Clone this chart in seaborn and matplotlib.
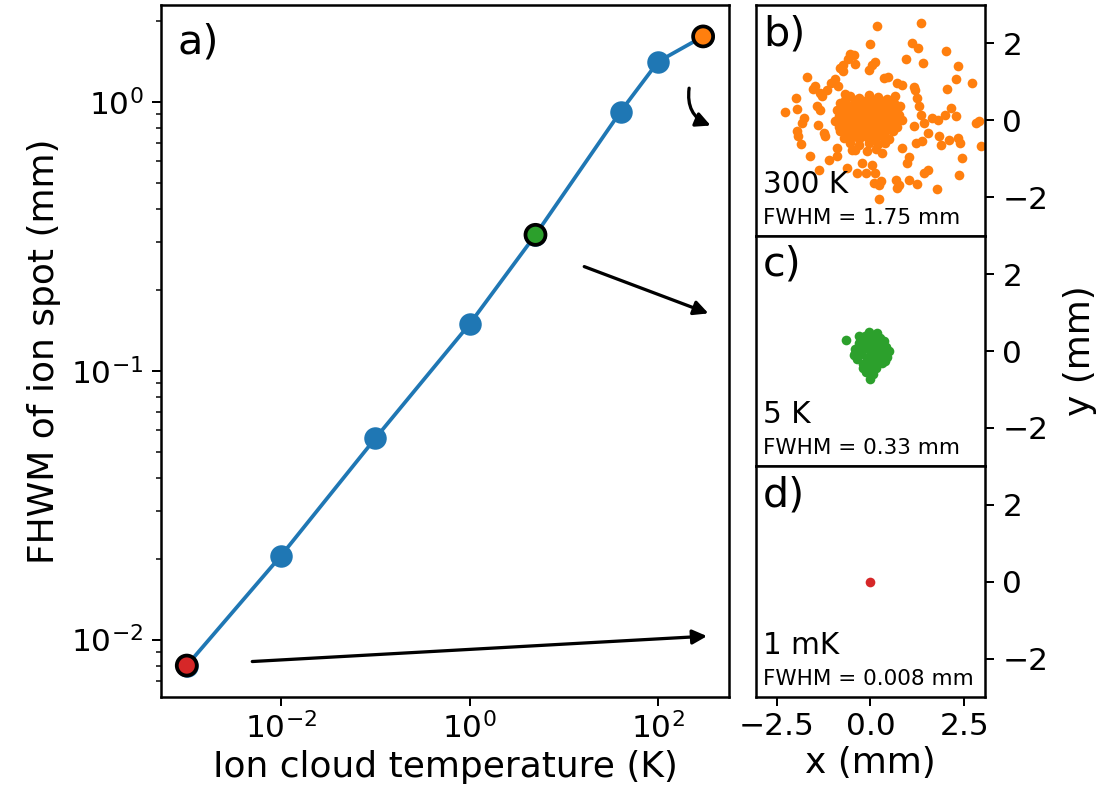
import matplotlib
matplotlib.use("Agg")
import matplotlib.pyplot as plt
import matplotlib.ticker as mticker
import seaborn as sns

# a) FWHM of the ion spot vs ion cloud temperature
temps = [1e-3, 1e-2, 1e-1, 1.0, 5.0, 40.0, 100.0, 300.0]
fwhm = [0.008, 0.0205, 0.056, 0.149, 0.32, 0.92, 1.41, 1.75]

# highlighted temperatures (index into temps) and their colours
hl_index = [7, 4, 0]
hl_colors = ["#ff7f0e", "#2ca02c", "#d62728"]

# b) 300 K ion positions (mm)
hot_x = [0.18, 1.35, -0.02, 1.11, 1.27, 2.01, -0.55, -0.43, -0.60, 0.94, 1.41, 0.13,
         0.04, -0.40, -0.74, -0.80, 2.32, -0.73, -0.04, -1.68, -0.94, 0.36, 0.47, 2.27,
         2.70, -1.47, -1.52, -1.04, -0.86, 0.71, 0.85, 1.16, 1.18, 2.05, -1.34, -1.16,
         -1.99, -1.29, -0.69, 1.23, -2.27, -1.96, -1.43, -1.34, 1.29, 1.34, 2.14, 1.98,
         1.65, 1.81, 2.27, -1.76, -1.83, -1.41, 2.81, 2.90, -1.96, -1.92, -1.84, -1.25,
         -1.20, 1.16, 1.43, 1.52, 1.83, 2.09, 2.32, 2.39, 1.89, 2.94, 1.22, 1.36,
         -1.60, -1.11, -0.89, -0.89, -0.49, -0.22, 0.04, 0.31, 0.85, 1.04, 0.98, 2.45,
         -1.38, -0.36, -0.13, 0.13, 1.43, 1.52, 2.36, -0.62, 0.67, 0.76, 1.02, 1.25,
         0.09, 0.22, 0.29, 1.78, 0.24, 0.71,
         -0.55, -0.30, -0.05, 0.20, 0.45, 0.65,
         -0.80, -0.60, -0.40, -0.20, 0.00, 0.22, 0.42, 0.62, 0.80,
         -0.90, -0.70, -0.50, -0.30, -0.10, 0.10, 0.30, 0.50, 0.70,
         -0.85, -0.65, -0.45, -0.25, -0.05, 0.15, 0.35, 0.55, 0.75,
         -0.95, -0.75, -0.55, -0.35, -0.15, 0.05, 0.25, 0.45, 0.65, 0.85,
         -0.85, -0.65, -0.45, -0.25, -0.05, 0.15, 0.35, 0.55, 0.72,
         -0.80, -0.60, -0.40, -0.20, 0.00, 0.20, 0.40, 0.60,
         -0.70, -0.50, -0.30, -0.10, 0.10, 0.30, 0.50,
         -0.55, -0.30, -0.05, 0.20, 0.40,
         -0.40, -0.10, 0.15,
         -0.68, -0.42, -0.18, 0.08, 0.32, 0.55,
         -0.72, -0.52, -0.32, -0.12, 0.08, 0.28, 0.48, 0.66,
         -0.78, -0.58, -0.38, -0.18, 0.02, 0.22, 0.42, 0.62,
         -0.70, -0.50, -0.30, -0.10, 0.10, 0.30, 0.50, 0.70,
         -0.62, -0.42, -0.22, -0.02, 0.18, 0.38, 0.58,
         -0.45, -0.20, 0.05, 0.30]
hot_y = [2.46, 2.52, 1.99, 2.00, 1.89, 1.79, 1.72, 1.70, 1.60, 1.60, 1.50, 1.51,
         1.44, 1.46, 1.44, 1.36, 1.40, 1.29, 1.31, 1.12, 1.08, 1.10, 1.12, 1.08,
         0.97, 0.90, 0.81, 0.97, 0.90, 0.97, 0.92, 0.86, 0.79, 0.81, 0.72, 0.79,
         0.59, 0.62, 0.69, 0.59, 0.21, 0.29, 0.38, 0.27, 0.38, 0.14, 0.32, 0.14,
         0.06, 0.01, 0.10, 0.06, -0.07, -0.12, -0.07, -0.03, -0.29, -0.42, -0.62, -0.33,
         -0.42, -0.14, -0.06, -0.33, -0.42, -0.51, -0.46, -0.59, -0.65, -0.68, -0.59, -0.55,
         -0.92, -1.03, -0.94, -0.72, -0.77, -1.10, -1.16, -0.85, -0.72, -0.96, -1.11, -0.98,
         -1.30, -1.37, -1.37, -1.36, -1.37, -1.29, -1.42, -1.24, -1.55, -1.68, -1.55, -1.65,
         -1.63, -1.68, -1.59, -1.79, -2.05, -1.76,
         0.62, 0.58, 0.65, 0.60, 0.55, 0.62,
         0.45, 0.40, 0.48, 0.42, 0.47, 0.44, 0.40, 0.46, 0.38,
         0.28, 0.32, 0.27, 0.33, 0.29, 0.31, 0.26, 0.30, 0.27,
         0.12, 0.17, 0.13, 0.18, 0.14, 0.16, 0.12, 0.17, 0.13,
         -0.02, 0.03, -0.03, 0.02, -0.01, 0.03, -0.02, 0.02, -0.03, 0.01,
         -0.17, -0.13, -0.16, -0.12, -0.18, -0.14, -0.17, -0.12, -0.18,
         -0.28, -0.33, -0.29, -0.31, -0.27, -0.33, -0.30, -0.28,
         -0.47, -0.43, -0.48, -0.44, -0.46, -0.42, -0.49,
         -0.60, -0.63, -0.58, -0.62, -0.60,
         -0.76, -0.80, -0.74,
         0.52, 0.54, 0.50, 0.53, 0.51, 0.50,
         0.36, 0.38, 0.35, 0.37, 0.39, 0.36, 0.35, 0.37,
         0.21, 0.22, 0.20, 0.23, 0.21, 0.22, 0.20, 0.21,
         0.07, 0.08, 0.06, 0.09, 0.07, 0.08, 0.06, 0.07,
         -0.22, -0.24, -0.21, -0.23, -0.22, -0.24, -0.22,
         -0.38, -0.37, -0.39, -0.38]

# c) 5 K ion positions (mm)
mid_x = [0.00, 0.15, -0.15, 0.05, -0.10, 0.20, -0.25, 0.30, -0.30, 0.10, -0.15, 0.25,
         0.35, 0.42, 0.45, -0.40, -0.35, -0.20, 0.05, 0.30, -0.05, 0.18, 0.00, -0.13,
         0.00, -0.65, 0.50, -0.45, 0.15, -0.30,
         0.10, -0.05, 0.10, -0.20, 0.25, -0.10, 0.20, -0.25, 0.35, -0.30, 0.25, -0.10,
         0.10, 0.38, -0.40, 0.00, -0.20, 0.08]
mid_y = [0.00, 0.05, 0.08, 0.20, -0.18, -0.15, -0.05, 0.15, 0.20, 0.35, 0.38, 0.35,
         -0.05, 0.10, -0.15, 0.05, -0.20, -0.35, -0.35, -0.30, 0.50, 0.48, -0.50, -0.55,
         -0.72, 0.28, 0.00, -0.10, -0.45, 0.40,
         0.10, 0.10, -0.10, 0.10, 0.05, 0.25, 0.22, 0.30, 0.25, -0.10, -0.25, -0.30,
         -0.25, -0.25, -0.05, 0.42, -0.45, -0.60]

# d) 1 mK ion positions (mm)
cold_x = [0.0]
cold_y = [0.0]

panel_tags = ["b)", "c)", "d)"]
panel_temps = ["300 K", "5 K", "1 mK"]
panel_fwhm = ["FWHM = 1.75 mm", "FWHM = 0.33 mm", "FWHM = 0.008 mm"]

sns.set_style("ticks", {"axes.edgecolor": "black", "xtick.color": "black",
                        "ytick.color": "black", "text.color": "black",
                        "axes.labelcolor": "black"})
plt.rcParams["font.family"] = ["DejaVu Sans"]
plt.rcParams["axes.linewidth"] = 1.0
plt.rcParams["xtick.direction"] = "out"
plt.rcParams["ytick.direction"] = "out"
plt.rcParams["xtick.major.pad"] = 2.5

fig = plt.figure(figsize=(6.133, 4.367), dpi=180)

# main log-log panel
ax = fig.add_axes([0.1458, 0.1132, 0.5145, 0.8804])
ax.set_xscale("log")
ax.set_yscale("log")
sns.lineplot(x=temps, y=fwhm, ax=ax, color="#1f77b4", lw=1.5, marker="o",
             markersize=9, markeredgewidth=0)
sns.scatterplot(x=[temps[i] for i in hl_index], y=[fwhm[i] for i in hl_index],
                hue=[str(i) for i in hl_index], palette=hl_colors, s=64,
                edgecolor="black", linewidth=1.5, ax=ax, legend=False, zorder=4)
ax.xaxis.set_major_locator(mticker.FixedLocator([1e-2, 1e0, 1e2]))
ax.xaxis.set_minor_locator(mticker.NullLocator())
ax.tick_params(labelsize=12.5)
ax.set_xlabel("Ion cloud temperature (K)", fontsize=14.4, labelpad=2)
ax.set_ylabel("FHWM of ion spot (mm)", fontsize=14.4)
ax.text(0.03, 0.975, "a)", transform=ax.transAxes, fontsize=16.5, va="top", ha="left")

# the three position maps
clouds = [(hot_x, hot_y, "#ff7f0e"), (mid_x, mid_y, "#2ca02c"), (cold_x, cold_y, "#d62728")]
h = 0.8804 / 3
side = []
for k, (xs, ys, col) in enumerate(clouds):
    a = fig.add_axes([0.6848, 0.1132 + (2 - k) * h, 0.2074, h])
    sns.scatterplot(x=xs, y=ys, color=col, s=15, linewidth=0, ax=a)
    a.set_xlim(-3.05, 3.05)
    a.set_ylim(-3, 3)
    a.yaxis.tick_right()
    a.set_yticks([-2, 0, 2])
    a.tick_params(labelsize=12.5)
    a.text(0.03, 0.96, panel_tags[k], transform=a.transAxes, fontsize=16.5,
           va="top", ha="left")
    a.text(0.03, 0.186, panel_temps[k], transform=a.transAxes, fontsize=11.8,
           va="baseline", ha="left")
    a.text(0.03, 0.052, panel_fwhm[k], transform=a.transAxes, fontsize=8.6,
           va="baseline", ha="left")
    if k < 2:
        a.set_xticks([])
    else:
        a.set_xticks([-2.5, 0.0, 2.5])
        a.set_xlabel("x (mm)", fontsize=14.4, labelpad=2)
    side.append(a)

side[1].yaxis.set_label_position("right")
side[1].set_ylabel("y (mm)", fontsize=14.4, labelpad=6)

# arrows pointing from the highlighted points to their panels
arrow = dict(arrowstyle="-|>", color="black", lw=1.3, mutation_scale=12)
ax.annotate("", xy=(0.648, 0.838), xytext=(0.625, 0.894), xycoords="figure fraction",
            arrowprops=dict(arrow, connectionstyle="arc3,rad=0.45"))
ax.annotate("", xy=(0.646, 0.599), xytext=(0.525, 0.663), xycoords="figure fraction",
            arrowprops=arrow)
ax.annotate("", xy=(0.645, 0.191), xytext=(0.224, 0.158), xycoords="figure fraction",
            arrowprops=arrow)

fig.savefig("out.png", dpi=180)
